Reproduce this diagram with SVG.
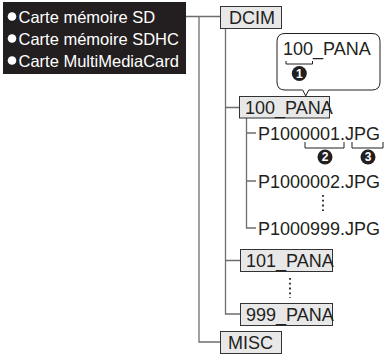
<svg xmlns="http://www.w3.org/2000/svg" width="389" height="356" viewBox="0 0 389 356">
<style>
  .t{font-family:"Liberation Sans",Arial,sans-serif;font-size:18px;fill:#231f20}
  .w{font-family:"Liberation Sans",Arial,sans-serif;font-size:16.5px;fill:#ffffff}
  .box{fill:#e8e8e8;stroke:#333;stroke-width:1}
  .ln{fill:none;stroke:#6d6d6d;stroke-width:1.3}
  .bk{fill:none;stroke:#231f20;stroke-width:1}
  .num{font-family:"Liberation Sans",Arial,sans-serif;font-size:12px;font-weight:bold;fill:#fff;text-anchor:middle}
</style>
<rect width="389" height="356" fill="#fff"/>
<g id="cards">
  <rect x="3" y="2" width="183" height="72" fill="#231f20"/>
  <circle cx="12" cy="16.5" r="4.3" fill="#fff"/>
  <text class="w" x="18.5" y="23">Carte mémoire SD</text>
  <circle cx="12" cy="38.5" r="4.3" fill="#fff"/>
  <text class="w" x="18.5" y="45">Carte mémoire SDHC</text>
  <circle cx="12" cy="60.5" r="4.3" fill="#fff"/>
  <text class="w" x="18.5" y="67">Carte MultiMediaCard</text>
</g>
<g id="connectors">
  <path class="ln" d="M186 16.5H220M199 16.5V342H220"/>
  <path class="ln" d="M225.5 28V314H240M225.5 107.5H239M225.5 260.5H240"/>
  <path class="ln" d="M246.5 118V228H256M246.5 133H256M246.5 181H256"/>
</g>
<g id="dcim">
  <rect class="box" x="220.5" y="6.5" width="61" height="22"/>
  <text class="t" x="229" y="24">DCIM</text>
</g>
<g id="callout">
  <path d="M285 33.5H372Q380 33.5 380 41.5V82Q380 90 372 90H308.7L305.7 96L302.7 90H285Q277 90 277 82V41.5Q277 33.5 285 33.5Z" fill="#fff" stroke="#231f20" stroke-width="1"/>
  <text class="t" x="283" y="55">100_PANA</text>
  <path class="bk" d="M286 61V64H312.5V61"/>
  <circle cx="299.3" cy="73.5" r="7.5" fill="#231f20"/>
  <text class="num" x="299.3" y="77.8">1</text>
</g>
<g id="p100">
  <rect class="box" x="239.5" y="96.5" width="90" height="21.5"/>
  <text class="t" x="245" y="114">100_PANA</text>
</g>
<g id="f1">
  <text class="t" x="258" y="140">P1000001.JPG</text>
  <path class="bk" d="M305 142V148H344V142M352 142V148H383V142"/>
  <circle cx="325" cy="157" r="7.5" fill="#231f20"/>
  <text class="num" x="325" y="161.3">2</text>
  <circle cx="368" cy="157" r="7.5" fill="#231f20"/>
  <text class="num" x="368" y="161.3">3</text>
</g>
<g id="f2">
  <text class="t" x="258" y="188">P1000002.JPG</text>
</g>
<g id="dots1">
  <path d="M323 195V211" stroke="#231f20" stroke-width="1.8" stroke-dasharray="1.8 3" fill="none"/>
</g>
<g id="f999">
  <text class="t" x="258" y="235">P1000999.JPG</text>
</g>
<g id="p101">
  <rect class="box" x="240.5" y="249.5" width="92" height="22"/>
  <text class="t" x="246" y="267">101_PANA</text>
</g>
<g id="dots2">
  <path d="M290 278V298" stroke="#231f20" stroke-width="1.8" stroke-dasharray="1.8 3" fill="none"/>
</g>
<g id="p999">
  <rect class="box" x="240.5" y="303.5" width="92" height="22"/>
  <text class="t" x="246" y="321">999_PANA</text>
</g>
<g id="misc">
  <rect class="box" x="220.5" y="331.5" width="61" height="22"/>
  <text class="t" x="228" y="349">MISC</text>
</g>
</svg>
